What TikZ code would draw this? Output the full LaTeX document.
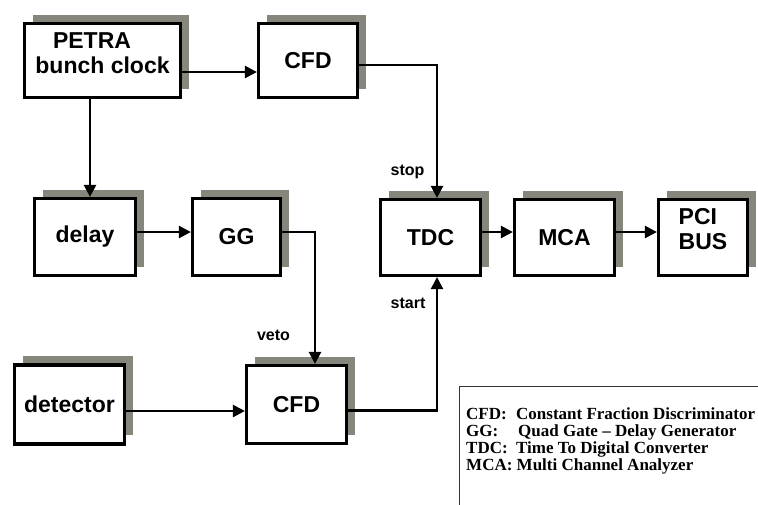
\documentclass[tikz,border=0pt]{standalone}
\usepackage{fontspec}
\setmainfont{Liberation Serif}
\setsansfont{Liberation Sans}
\usetikzlibrary{arrows.meta,shadows}
\definecolor{shadowgray}{RGB}{134,134,124}

\begin{document}
\begin{tikzpicture}[x=1pt,y=-1pt,
  blk/.style={draw, line width=3.2pt, fill=white, inner sep=0pt,
    font=\sffamily\bfseries\fontsize{23}{25}\selectfont,
    drop shadow={shadow xshift=8pt, shadow yshift=9pt, fill=shadowgray, opacity=1}},
  conn/.style={line width=2.4pt, -{Triangle[length=12pt,width=12pt]}},
  lbl/.style={font=\sffamily\bfseries\fontsize{16}{18}\selectfont, inner sep=0pt},
  legtxt/.style={font=\bfseries\fontsize{17}{17}\selectfont, align=left, inner sep=0pt}]
  \useasboundingbox (0,0) rectangle (758,504);

  % --- top row ---
  \node[blk, minimum width=156pt, minimum height=74pt, align=center, text depth=14pt]
    (petra) at (102.5,60.5) {PETRA\hspace*{21pt}\\bunch clock};
  \node[blk, minimum width=99pt, minimum height=74pt] (cfda) at (308,60.5) {CFD};

  % --- middle row ---
  \node[blk, minimum width=101pt, minimum height=77pt] (delay) at (85,237) {delay};
  \node[blk, minimum width=88pt, minimum height=77pt] (gg) at (236.5,237) {GG};
  \node[blk, minimum width=100pt, minimum height=76pt] (tdc) at (430.5,237.5) {TDC};
  \node[blk, minimum width=100pt, minimum height=76pt] (mca) at (564.5,237.5) {MCA};
  \node[blk, minimum width=89pt, minimum height=76pt, align=left, text depth=18pt]
    (pci) at (703,237.5) {PCI\\BUS};

  % --- bottom row ---
  \node[blk, minimum width=110pt, minimum height=79pt] (det) at (69.5,404.5) {detector};
  \node[blk, minimum width=100pt, minimum height=78pt] (cfdb) at (296.5,404.5) {CFD};

  % --- connectors ---
  \draw[conn] ([yshift=-11.5pt]petra.east) -- ([yshift=-11.5pt]cfda.west);
  \draw[conn] ([xshift=-12.5pt]petra.south) -- ([xshift=5pt]delay.north);
  \draw[conn] ([yshift=-4.5pt]cfda.east) -| ([xshift=6.5pt]tdc.north);
  \draw[conn] ([yshift=5pt]delay.east) -- ([yshift=5pt]gg.west);
  \draw[conn] ([yshift=5pt]gg.east) -| ([xshift=18.5pt]cfdb.north);
  \draw[conn] ([yshift=-6.5pt]det.east) -- ([yshift=-6.5pt]cfdb.west);
  \draw[conn] ([yshift=-6pt]cfdb.east) -| ([xshift=6.5pt]tdc.south);
  \draw[conn] ([yshift=5.5pt]tdc.east) -- ([yshift=5.5pt]mca.west);
  \draw[conn] ([yshift=5.5pt]mca.east) -- ([yshift=5.5pt]pci.west);

  % --- signal labels ---
  \node[lbl, anchor=base] (stop) at (407.5,175) {stop};
  \node[lbl, anchor=base] (start) at (408,308) {start};
  \node[lbl, anchor=base] (veto) at (273.5,340) {veto};

  % --- legend ---
  \node[draw=black!80, line width=1pt, anchor=north west, minimum width=400pt,
    minimum height=200pt] (legend) at (458.5,386) {};
  \node[legtxt, anchor=north west] (legtext) at (466,407) {%
    \makebox[50pt][l]{CFD:}Constant Fraction Discriminator\\
    \makebox[50pt][l]{GG:}\hspace{2pt}Quad Gate -- Delay Generator\\
    \makebox[50pt][l]{TDC:}Time To Digital Converter\\
    MCA: Multi Channel Analyzer};
\end{tikzpicture}
\end{document}
